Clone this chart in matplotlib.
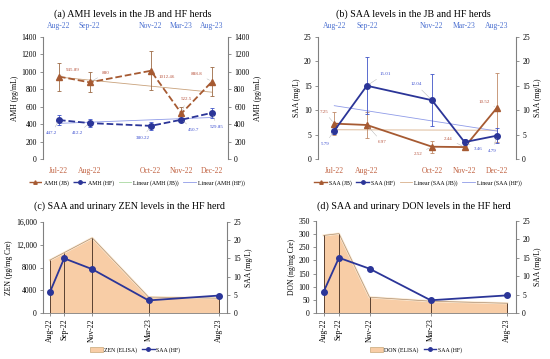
import matplotlib
matplotlib.use("Agg")
import matplotlib.pyplot as plt
from matplotlib.lines import Line2D
from matplotlib.patches import Patch
import numpy as np
import pandas as pd

plt.rcParams['font.family'] = ['Liberation Serif', 'DejaVu Serif']

# DATA ########################################################################

jb_months = ["Jul-22", "Aug-22", "Oct-22", "Nov-22", "Dec-22"]
hf_months = ["Aug-22", "Sep-22", "Nov-22", "Mar-23", "Aug-23"]

amh_jb = [945.89, 880, 1012.46, 522.5, 888.8]
amh_jb_err = [160, 115, 225, 70, 165]
amh_hf = [447.2, 412.2, 380.22, 450.7, 529.85]
amh_hf_err = [55, 50, 50, 25, 60]

saa_jb = [7.25, 6.97, 2.52, 2.44, 10.52]
saa_jb_err = [2.4, 2.7, 1.2, 0.3, 7.1]
saa_hf = [5.79, 15.01, 12.04, 3.46, 4.79]
saa_hf_err = [0.7, 5.8, 5.3, 0.6, 1.6]

zen = [9300, 10600, 13200, 2800, 2600]
don = [295, 302, 60, 45, 37]

# STYLE #######################################################################

JB = '#a65a32'
HF = '#2b3598'
JB_TXT = '#b8543e'
HF_TXT = '#3c4fd0'
JB_TICK = '#c0603f'
HF_TICK = '#4a6fd0'
AREA = '#f8cda6'
GRAY = '#808080'


def month_index(labels):
    d = pd.to_datetime(labels, format="%b-%y")
    return np.array((d.year - d.year[0]) * 12 + d.month - d.month[0])


def rect(l, r, t, b):
    return [l / 550, 1 - b / 359, (r - l) / 550, (b - t) / 359]


def style_axis(ax, right=False):
    for s in ['top', 'bottom', 'left', 'right']:
        ax.spines[s].set_visible(False)
    side = 'right' if right else 'left'
    ax.spines[side].set_visible(True)
    ax.spines[side].set_color(GRAY)
    ax.spines[side].set_linewidth(0.8)
    ax.tick_params(axis='y', length=2.5, width=0.6, color=GRAY, labelsize=5.5, pad=2)


def add_labels(ax, xs, vals, offsets, color):
    for x, v, (dx, dy) in zip(xs, vals, offsets):
        ax.annotate(str(v), (x, v), xytext=(dx, dy), textcoords='offset pixels',
                    fontsize=3.6, color=color, ha='center', va='center',
                    arrowprops=dict(arrowstyle='-', color='#aaaaaa', lw=0.3,
                                    shrinkA=1, shrinkB=2))


def trend(x, y):
    k, b = np.polyfit(x, y, 1)
    return [x[0], x[-1]], [k * x[0] + b, k * x[-1] + b]


fig = plt.figure(figsize=(5.5, 3.59), dpi=100)

xj = month_index(jb_months)
xh = month_index(hf_months)

# PANEL (a) ###################################################################

ax = fig.add_axes(rect(43, 228, 37, 159))
tx, ty = trend(xj, amh_jb)
ax.plot(tx, ty, color='#c9a27c', lw=0.6)
tx, ty = trend(xj, amh_hf)
ax.plot(tx, ty, color='#8f9be8', lw=0.6)
ax.errorbar(xj, amh_jb, yerr=amh_jb_err, color=JB, ls='--', lw=1.3, marker='^', ms=4,
            ecolor='#9c6a45', elinewidth=0.6, capsize=1.5, capthick=0.6)
ax.errorbar(xj, amh_hf, yerr=amh_hf_err, color=HF, ls='--', lw=1.3, marker='o', ms=4,
            ecolor='#4055c8', elinewidth=0.6, capsize=1.5, capthick=0.6)
add_labels(ax, xj, amh_jb, [(14, 7), (16, 9), (16, -6), (5, 14), (-15, 8)], JB_TXT)
add_labels(ax, xj, amh_hf, [(-7, -13), (-12, -10), (-8, -12), (12, -10), (5, -14)], HF_TXT)
ax.set_xlim(-0.52, 5.52)
ax.set_ylim(0, 1400)
ax.set_yticks(range(0, 1401, 200))
style_axis(ax)
ax.set_ylabel("AMH (pg/mL)", fontsize=5.5, labelpad=2)
ax.set_xticks(xj)
ax.set_xticklabels(jb_months, color=JB_TICK, fontsize=5.5)
ax.tick_params(axis='x', length=0, pad=6)
top = ax.secondary_xaxis('top')
top.set_xticks(xj)
top.set_xticklabels(hf_months, color=HF_TICK, fontsize=5.5)
top.tick_params(axis='x', length=0, pad=5)
top.spines['top'].set_visible(False)
ax2 = ax.twinx()
ax2.set_ylim(0, 1400)
ax2.set_yticks(range(0, 1401, 200))
style_axis(ax2, right=True)
ax2.set_ylabel("AMH (pg/mL)", fontsize=5.5, labelpad=3)
fig.text(133 / 550, 1 - 14 / 359, "(a) AMH levels in the JB and HF herds",
         fontsize=7.2, ha='center', va='center')

handles = [Line2D([], [], color=JB, ls='--', lw=1, marker='^', ms=2.5),
           Line2D([], [], color=HF, ls='--', lw=1, marker='o', ms=2.5),
           Line2D([], [], color='#a8d8a0', lw=0.6),
           Line2D([], [], color='#8f9be8', lw=0.6)]
fig.legend(handles, ["AMH (JB)", "AMH (HF)", "Linear (AMH (JB))", "Linear (AMH (HF))"],
           loc='center', bbox_to_anchor=(137 / 550, 1 - 183 / 359), ncol=4,
           frameon=False, fontsize=4.2, handlelength=2.2, handletextpad=0.3,
           columnspacing=0.8)

# PANEL (b) ###################################################################

ax = fig.add_axes(rect(318, 516, 37, 159))
tx, ty = trend(xj, saa_jb)
ax.plot(tx, ty, color='#d8b08a', lw=0.6)
tx, ty = trend(xj, saa_hf)
ax.plot(tx, ty, color='#8f9be8', lw=0.6)
ax.errorbar(xj, saa_jb, yerr=saa_jb_err, color=JB, lw=1.3, marker='^', ms=4,
            ecolor='#c08a68', elinewidth=0.6, capsize=1.5, capthick=0.6)
ax.errorbar(xj, saa_hf, yerr=saa_hf_err, color=HF, lw=1.3, marker='o', ms=4,
            ecolor='#4055c8', elinewidth=0.6, capsize=1.5, capthick=0.6)
add_labels(ax, xj, saa_jb, [(-10, 12), (15, -17), (-14, -7), (-16, 8), (-13, 6)], JB_TXT)
add_labels(ax, xj, saa_hf, [(-9, -13), (18, 12), (-16, 16), (14, -7), (-5, -15)], HF_TXT)
ax.set_xlim(-0.5, 5.58)
ax.set_ylim(0, 25)
ax.set_yticks(range(0, 26, 5))
style_axis(ax)
ax.set_ylabel("SAA (mg/L)", fontsize=5.5, labelpad=2)
ax.set_xticks(xj)
ax.set_xticklabels(jb_months, color=JB_TICK, fontsize=5.5)
ax.tick_params(axis='x', length=0, pad=6)
top = ax.secondary_xaxis('top')
top.set_xticks(xj)
top.set_xticklabels(hf_months, color=HF_TICK, fontsize=5.5)
top.tick_params(axis='x', length=0, pad=5)
top.spines['top'].set_visible(False)
ax2 = ax.twinx()
ax2.set_ylim(0, 25)
ax2.set_yticks(range(0, 26, 5))
style_axis(ax2, right=True)
ax2.set_ylabel("SAA (mg/L)", fontsize=5.5, labelpad=3)
fig.text(413 / 550, 1 - 14 / 359, "(b) SAA levels in the JB and HF herds",
         fontsize=7.2, ha='center', va='center')

handles = [Line2D([], [], color=JB, lw=1, marker='^', ms=2.5),
           Line2D([], [], color=HF, lw=1, marker='o', ms=2.5),
           Line2D([], [], color='#d8b08a', lw=0.6),
           Line2D([], [], color='#8f9be8', lw=0.6)]
fig.legend(handles, ["SAA (JB)", "SAA (HF)", "Linear (SAA (JB))", "Linear (SAA (HF))"],
           loc='center', bbox_to_anchor=(418 / 550, 1 - 183 / 359), ncol=4,
           frameon=False, fontsize=4.2, handlelength=2.2, handletextpad=0.3,
           columnspacing=0.8)


# PANELS (c) and (d) ##########################################################

def mycotoxin_panel(r, values, ymax, yticks, yticklabels, ylabel, title, tx, legend_name):
    ax = fig.add_axes(r)
    ax.fill_between(xh, values, color=AREA, lw=0)
    ax.plot(xh, values, color='#fbe9d2', lw=1.6)
    ax.plot(xh, values, color='#9c7a5a', lw=0.5, alpha=0.8)
    ax.vlines(xh, 0, values, color='#5a4030', lw=0.7)
    ax.set_xlim(-0.5, 12.58)
    ax.set_ylim(0, ymax)
    ax.set_yticks(yticks)
    ax.set_yticklabels(yticklabels)
    style_axis(ax)
    ax.spines['bottom'].set_visible(True)
    ax.spines['bottom'].set_color(GRAY)
    ax.spines['bottom'].set_linewidth(0.6)
    ax.set_ylabel(ylabel, fontsize=5.5, labelpad=2)
    ax.set_xticks(xh)
    ax.set_xticklabels(hf_months, rotation=90, fontsize=5.5)
    ax.tick_params(axis='x', length=2.5, width=0.6, color=GRAY, pad=1.5)

    ax2 = ax.twinx()
    ax2.plot(xh, saa_hf, color=HF, lw=1.3, marker='o', ms=4)
    ax2.set_ylim(0, 25)
    ax2.set_yticks(range(0, 26, 5))
    style_axis(ax2, right=True)
    ax2.set_ylabel("SAA (mg/L)", fontsize=5.5, labelpad=3)

    fig.text(tx / 550, 1 - 206 / 359, title, fontsize=7.2, ha='center', va='center')
    handles = [Patch(facecolor=AREA, edgecolor='#c8a878', lw=0.5),
               Line2D([], [], color=HF, lw=1, marker='o', ms=2.5)]
    fig.legend(handles, [legend_name, "SAA (HF)"], loc='center',
               bbox_to_anchor=((r[0] + r[2] / 2), 1 - 350 / 359), ncol=2,
               frameon=False, fontsize=4.2, handlelength=2.2, handletextpad=0.2,
               columnspacing=0.8)


mycotoxin_panel(rect(43, 227, 222, 313), zen, 16000,
                [0, 4000, 8000, 12000, 16000], ['0', '4000', '8000', '12,000', '16,000'],
                "ZEN (pg/mg Cre)", "(c) SAA and urinary ZEN levels in the HF herd",
                129, "ZEN (ELISA)")
mycotoxin_panel(rect(316, 516, 221, 313), don, 350,
                list(range(0, 351, 50)), [str(v) for v in range(0, 351, 50)],
                "DON (ng/mg Cre)", "(d) SAA and urinary DON levels in the HF herd",
                414, "DON (ELISA)")

fig.savefig("out.png", dpi=100)
